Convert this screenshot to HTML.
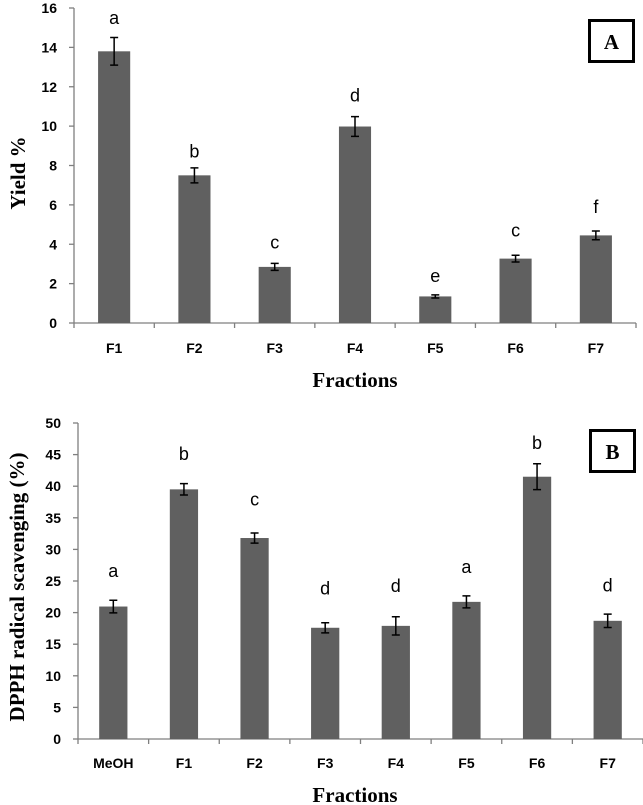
<!DOCTYPE html>
<html><head><meta charset="utf-8"><style>
html,body{margin:0;padding:0;background:#fff;}
svg{display:block;}
.tick{font-family:"Liberation Sans",sans-serif;font-weight:bold;font-size:14px;fill:#000;}
.let{font-family:"Liberation Sans",sans-serif;font-size:18px;fill:#000;}
.title{font-family:"Liberation Serif",serif;font-weight:bold;font-size:21px;fill:#000;}
</style></head><body>
<svg id="chart" width="643" height="805">
<text class="title" x="355" y="387" text-anchor="middle">Fractions</text>
<text class="title" transform="translate(25,173) rotate(-90)" text-anchor="middle" font-size="24">Yield %</text>
<text class="title" x="355" y="802" text-anchor="middle">Fractions</text>
<text class="title" transform="translate(24,587) rotate(-90)" text-anchor="middle">DPPH radical scavenging (%)</text>
<rect x="589.5" y="20.5" width="44" height="41" fill="none" stroke="#000" stroke-width="3"/>
<text class="title" x="611.5" y="49" text-anchor="middle" font-size="20">A</text>
<rect x="590.5" y="430.5" width="44" height="41" fill="none" stroke="#000" stroke-width="3"/>
<text class="title" x="612.5" y="459" text-anchor="middle" font-size="20">B</text>
</svg>
<script>
const catsA = ["F1","F2","F3","F4","F5","F6","F7"];
const valsA = [13.8,7.5,2.85,9.98,1.35,3.27,4.45];
const errsA = [0.7,0.38,0.18,0.5,0.08,0.17,0.22];
const lettersA = ["a","b","c","d","e","c","f"];
const letterPosA = [15.5,8.7,4.1,11.55,2.4,4.7,5.9];
const ticksA = [0,2,4,6,8,10,12,14,16];

const catsB = ["MeOH","F1","F2","F3","F4","F5","F6","F7"];
const valsB = [20.96,39.5,31.8,17.6,17.9,21.7,41.5,18.7];
const errsB = [1.0,0.9,0.8,0.8,1.45,0.95,2.05,1.05];
const lettersB = ["a","b","c","d","d","a","b","d"];
const letterPosB = [26.6,45.1,37.9,23.8,24.2,27.2,46.8,24.3];
const ticksB = [0,5,10,15,20,25,30,35,40,45,50];

const svg = document.getElementById('chart');
const NS = 'http://www.w3.org/2000/svg';
function mk(tag, attrs){const e=document.createElementNS(NS,tag);for(const k in attrs)e.setAttribute(k,attrs[k]);svg.appendChild(e);return e;}

function draw(p, cats, vals, errs, letters, letterPos, ticks){
  const n = cats.length, cw = (p.x1 - p.x0)/n;
  const ymax = ticks[ticks.length-1];
  const y = v => p.y0 - v/ymax*(p.y0 - p.yTop);
  const xc = i => p.x0 + cw*(i+0.5);
  let l = mk('line',{x1:p.x0,y1:p.yTop,x2:p.x0,y2:p.y0,stroke:'#7f7f7f','stroke-width':1.3});
  
  
  l = mk('line',{x1:p.x0,y1:p.y0,x2:p.x1,y2:p.y0,stroke:'#7f7f7f','stroke-width':1.3});
  
  
  ticks.forEach(t=>{
    const tk = mk('line',{x1:p.x0-5,y1:y(t),x2:p.x0,y2:y(t),stroke:'#7f7f7f','stroke-width':1.3});
    
    
    const tx = mk('text',{x:p.labX,y:y(t)+5,'text-anchor':'end',class:'tick'});
    tx.textContent = t;
    
    
  });
  for(let i=0;i<=n;i++){
    const tk = mk('line',{x1:p.x0+cw*i,y1:p.y0,x2:p.x0+cw*i,y2:p.y0+5,stroke:'#7f7f7f','stroke-width':1.3});
    
    
  }
  cats.forEach((c,i)=>{
    const bw = cw*p.bw;
    const b = mk('rect',{x:xc(i)-bw/2,y:y(vals[i]),width:bw,height:p.y0-y(vals[i]),fill:'#606060'});
    
    
    const eh = y(vals[i]-errs[i]), el = y(vals[i]+errs[i]);
    const g = mk('path',{d:`M${xc(i)} ${el}V${eh}M${xc(i)-4} ${el}H${xc(i)+4}M${xc(i)-4} ${eh}H${xc(i)+4}`,stroke:'#000','stroke-width':1.5,fill:'none'});
    
    
    const lt = mk('text',{x:xc(i),y:y(letterPos[i])+6,'text-anchor':'middle',class:'let'});
    lt.textContent = letters[i];
    
    
    const xl = mk('text',{x:xc(i),y:p.catY,'text-anchor':'middle',class:'tick'});
    xl.textContent = c;
    
    
  });
}
draw({id:'a',x0:74,x1:636,y0:323,yTop:8,labX:57,catY:353,bw:0.4}, catsA, valsA, errsA, lettersA, letterPosA, ticksA);
draw({id:'b',x0:78,x1:643,y0:739,yTop:423,labX:61,catY:768,bw:0.4}, catsB, valsB, errsB, lettersB, letterPosB, ticksB);
</script>
</body></html>
